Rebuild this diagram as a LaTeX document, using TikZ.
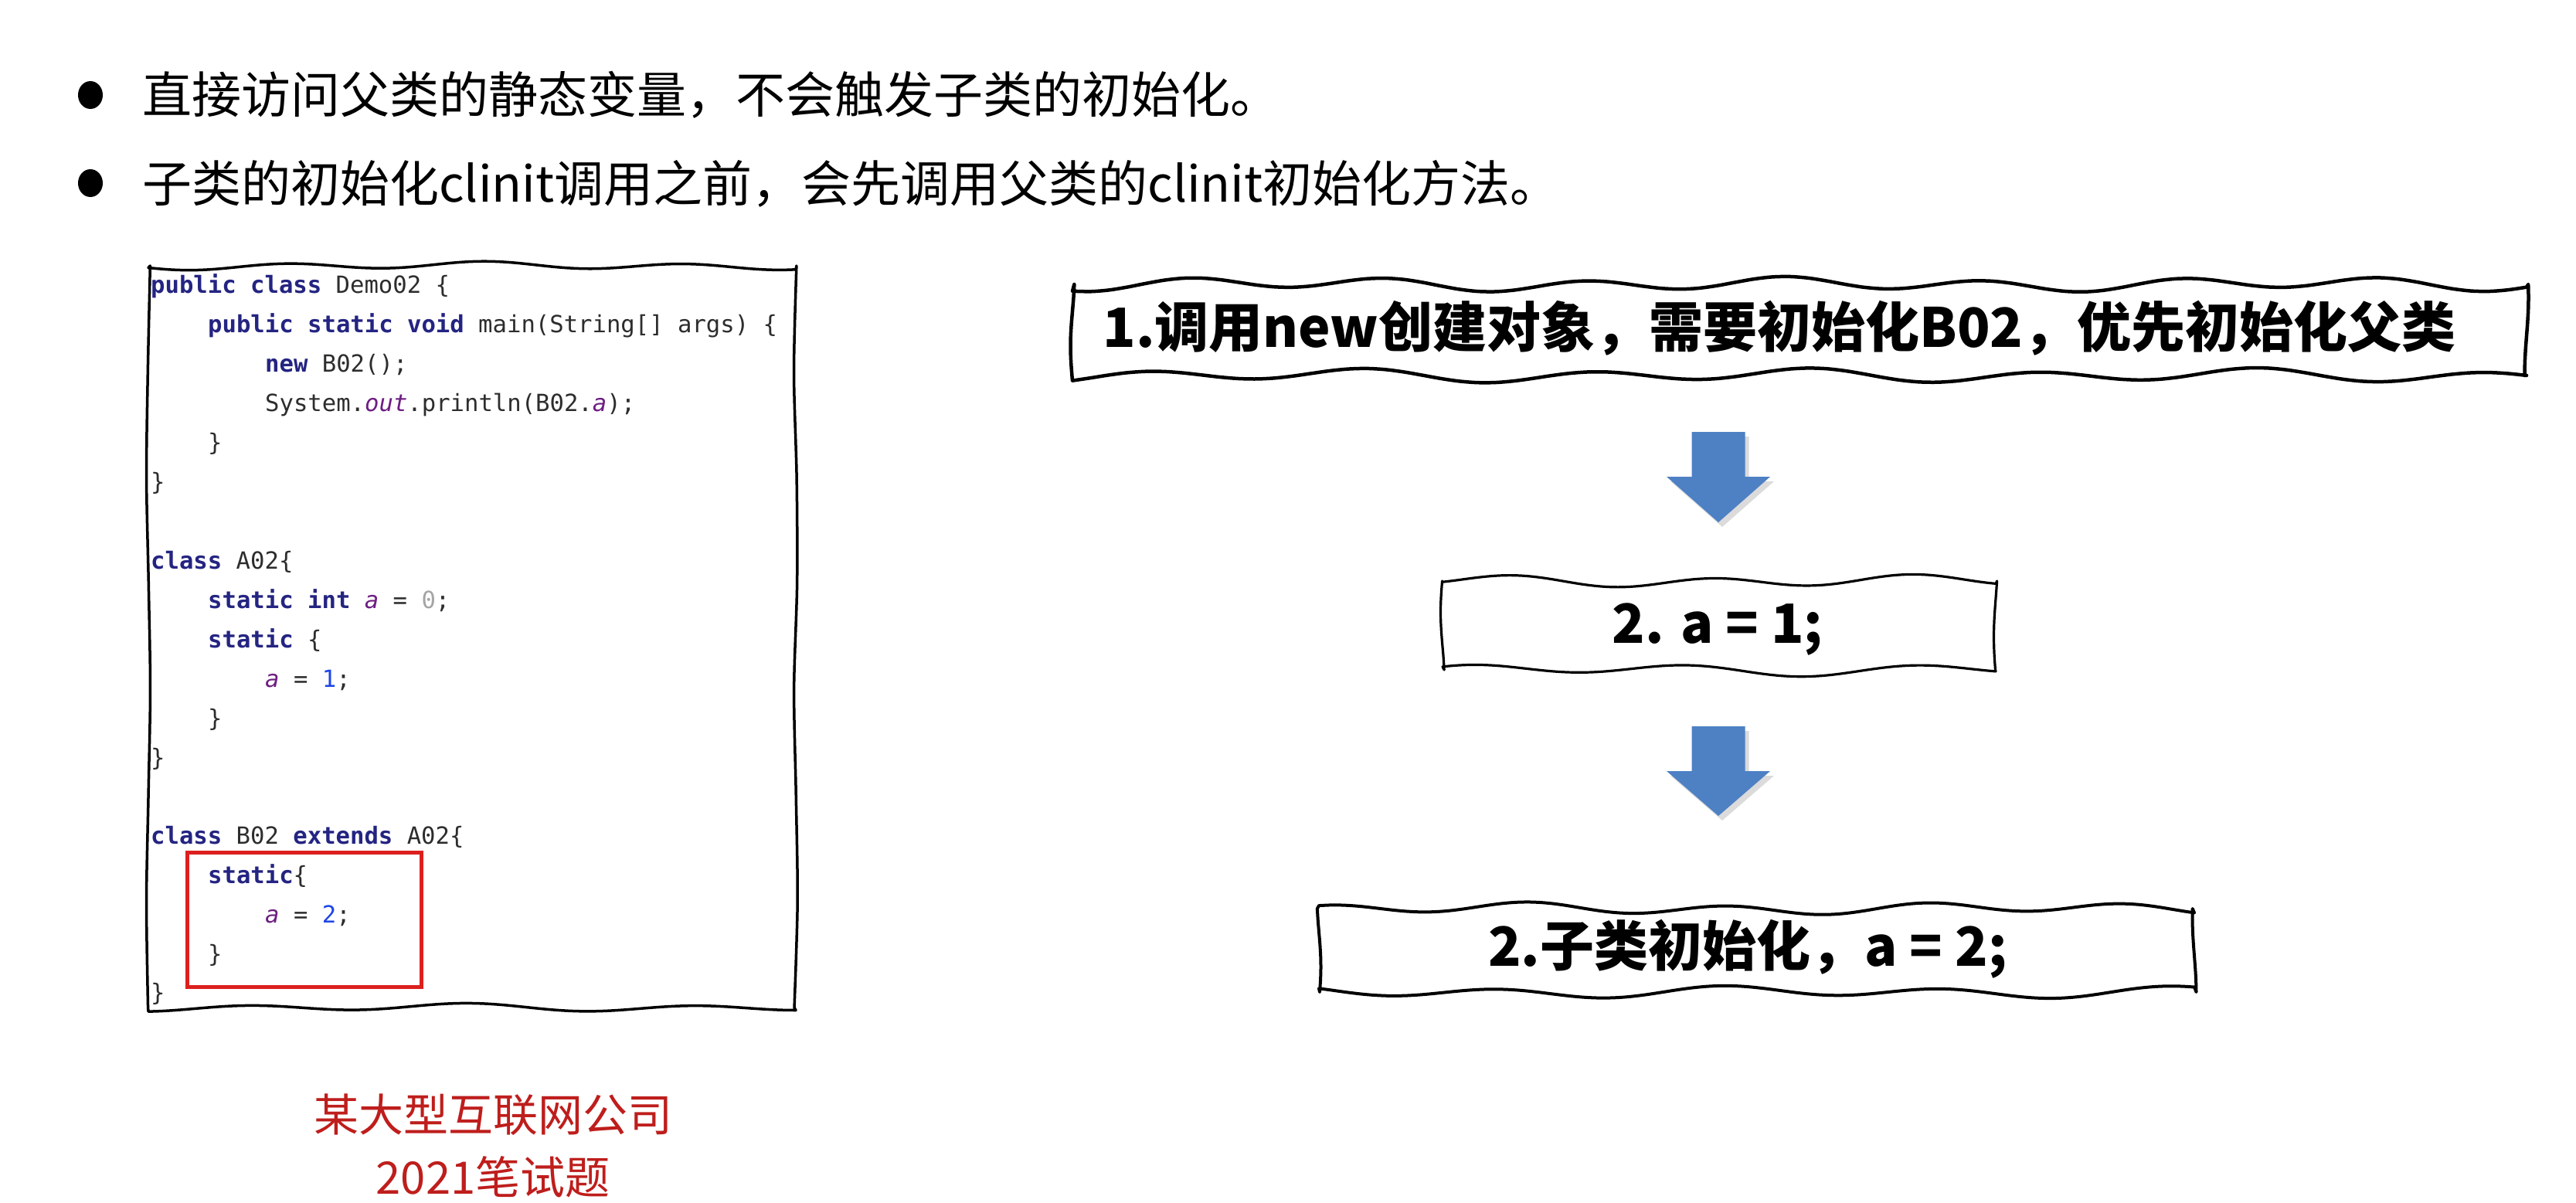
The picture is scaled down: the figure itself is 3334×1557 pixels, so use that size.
\documentclass[tikz,border=0pt]{standalone}
\usepackage{fontspec}
\usetikzlibrary{shadows}
\newfontfamily\cjk{Noto Sans CJK SC}
\newfontfamily\codefont{DejaVu Sans Mono}
\definecolor{kwc}{RGB}{36,36,130}
\definecolor{txc}{RGB}{45,45,45}
\definecolor{vrc}{RGB}{110,30,130}
\definecolor{nmc}{RGB}{30,70,230}
\definecolor{zrc}{RGB}{165,165,165}
\definecolor{arrowc}{RGB}{78,128,196}
\definecolor{redbox}{RGB}{220,32,30}
\definecolor{redtxt}{RGB}{190,30,28}
\newcommand{\kw}[1]{\textbf{\color{kwc}#1}}
\newcommand{\vr}[1]{\textit{\color{vrc}#1}}
\newcommand{\nm}[1]{{\color{nmc}#1}}
\newcommand{\zr}[1]{{\color{zrc}#1}}
% hand drawn frame: x1 y1 x2 y2 amplitude phase linewidth
\newcommand{\skbox}[7]{%
 \draw[line width=#7, line join=round, line cap=round]
  plot[smooth, domain=#1:#3, samples=80, variable=\t] (\t,{#2+#5*sin((\t-#1)*1.4+#6)+0.45*#5*sin((\t-#1)*0.55+2*#6)})
  -- plot[smooth, domain=#2:#4, samples=8, variable=\t] ({#3+2.5*sin((\t-#2)*1.8+#6)},\t)
  -- plot[smooth, domain=#3:#1, samples=80, variable=\t] (\t,{#4+#5*sin((\t-#1)*1.25+#6+90)+0.45*#5*sin((\t-#1)*0.6+#6+30)})
  -- plot[smooth, domain=#4:#2, samples=8, variable=\t] ({#1+2.5*sin((\t-#2)*2.0+#6+50)},\t)
  -- cycle;}
\begin{document}
\begin{tikzpicture}[x=1pt, y=-1pt,
  bullettext/.style={anchor=base west, inner sep=0pt, font=\cjk\fontsize{64}{72}\selectfont},
  boxtext/.style={anchor=base, inner sep=0pt, font=\cjk\bfseries\fontsize{70}{80}\selectfont},
  codeline/.style={anchor=base west, inner sep=0pt, text=txc, font=\codefont\fontsize{30.6}{40}\selectfont},
  redtext/.style={anchor=base, inner sep=0pt, text=redtxt, font=\cjk\fontsize{58}{66}\selectfont},
  blockarrow/.style={fill=arrowc, drop shadow={opacity=0.28, shadow xshift=5pt, shadow yshift=-6pt}}
]
\fill[white] (0,0) rectangle (3334,1557);
\useasboundingbox (0,0) rectangle (3334,1557);

% bullets
\fill (117,123) ellipse [x radius=16, y radius=18];
\fill (117,237) ellipse [x radius=16, y radius=18];
\node[bullettext] (bul1) at (184,147) {直接访问父类的静态变量，不会触发子类的初始化。};
\node[bullettext] (bul2) at (184,261) {子类的初始化clinit调用之前，会先调用父类的clinit初始化方法。};

% code
\node[codeline] (c1)  at (195,379)  {\kw{public} \kw{class} Demo02 \{};
\node[codeline] (c2)  at (269,430)  {\kw{public} \kw{static} \kw{void} main(String[] args) \{};
\node[codeline] (c3)  at (343,481)  {\kw{new} B02();};
\node[codeline] (c4)  at (343,532)  {System.\vr{out}.println(B02.\vr{a});};
\node[codeline] (c5)  at (269,583)  {\}};
\node[codeline] (c6)  at (195,634)  {\}};
\node[codeline] (c8)  at (195,736)  {\kw{class} A02\{};
\node[codeline] (c9)  at (269,787)  {\kw{static} \kw{int} \vr{a} = \zr{0};};
\node[codeline] (c10) at (269,838)  {\kw{static} \{};
\node[codeline] (c11) at (343,889)  {\vr{a} = \nm{1};};
\node[codeline] (c12) at (269,940)  {\}};
\node[codeline] (c13) at (195,991)  {\}};
\node[codeline] (c15) at (195,1092) {\kw{class} B02 \kw{extends} A02\{};
\node[codeline] (c16) at (269,1143) {\kw{static}\{};
\node[codeline] (c17) at (343,1194) {\vr{a} = \nm{2};};
\node[codeline] (c18) at (269,1245) {\}};
\node[codeline] (c19) at (195,1295) {\}};
\draw[redbox, line width=5pt] (242,1103) rectangle (545,1277);
\skbox{192}{344}{1030}{1304}{4}{20}{3.5pt}

% red caption
\node[redtext] (cap1) at (638,1464) {某大型互联网公司};
\node[redtext] (cap2) at (638,1545) {2021笔试题};

% flow boxes
\node[boxtext] (t1) at (2303,449) {1.调用new创建对象，需要初始化B02，优先初始化父类};
\skbox{1388}{368}{3270}{486}{7}{60}{4.5pt}
\node[boxtext] (t2) at (2223,832) {2. a = 1;};
\skbox{1867}{752}{2583}{867}{6}{140}{3.2pt}
\node[boxtext] (t3) at (2262,1250) {2.子类初始化，a = 2;};
\skbox{1707}{1176}{2840}{1284}{6}{250}{4pt}

% block arrows
\coordinate (a1) at (2224,559);
\coordinate (a2) at (2224,940);
\begin{scope}[shift={(a1)}]
\fill[blockarrow] (-34.5,0) -- (34.5,0) -- (34.5,58) -- (67,58) -- (0,117) -- (-67,58) -- (-34.5,58) -- cycle;
\end{scope}
\begin{scope}[shift={(a2)}]
\fill[blockarrow] (-34.5,0) -- (34.5,0) -- (34.5,58) -- (67,58) -- (0,116) -- (-67,58) -- (-34.5,58) -- cycle;
\end{scope}
\end{tikzpicture}
\end{document}
